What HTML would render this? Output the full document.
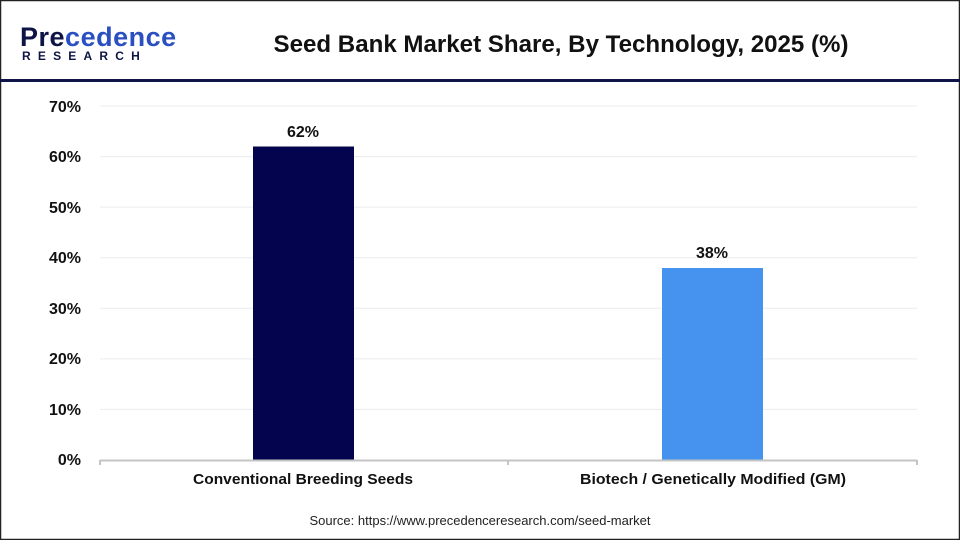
<!DOCTYPE html>
<html><head><meta charset="utf-8"><style>
body{margin:0;width:960px;height:540px;overflow:hidden;background:#fff;font-family:"Liberation Sans",sans-serif}
</style></head><body>
<svg width="960" height="540" xmlns="http://www.w3.org/2000/svg" font-family="Liberation Sans, sans-serif">
<rect x="0.5" y="0.5" width="959" height="539" fill="#fff" stroke="#222" stroke-width="1.5"/>
<rect x="0" y="79" width="960" height="3" fill="#0f1446"/>
<text x="20" y="46" font-size="27" fill="#0f1446" font-weight="bold" letter-spacing="0.5">Pre<tspan fill="#2a4fc0">cedence</tspan></text>
<text x="22" y="60" font-size="12" fill="#0f1446" font-weight="bold" letter-spacing="7.2">RESEARCH</text>
<text x="561" y="52" font-size="24" font-weight="bold" text-anchor="middle" fill="#111" textLength="575" lengthAdjust="spacingAndGlyphs">Seed Bank Market Share, By Technology, 2025 (%)</text>
<g stroke="#ececec" stroke-width="1">
<line x1="100" x2="917" y1="106" y2="106"/><line x1="100" x2="917" y1="156.6" y2="156.6"/>
<line x1="100" x2="917" y1="207.1" y2="207.1"/><line x1="100" x2="917" y1="257.7" y2="257.7"/>
<line x1="100" x2="917" y1="308.3" y2="308.3"/><line x1="100" x2="917" y1="358.9" y2="358.9"/>
<line x1="100" x2="917" y1="409.4" y2="409.4"/>
</g>
<g font-size="16" font-weight="bold" fill="#111" text-anchor="end">
<text x="81" y="112">70%</text><text x="81" y="162">60%</text><text x="81" y="213">50%</text>
<text x="81" y="263">40%</text><text x="81" y="314">30%</text><text x="81" y="364">20%</text>
<text x="81" y="415">10%</text><text x="81" y="465">0%</text>
</g>
<rect x="253" y="146.5" width="101" height="313.5" fill="#03044d"/>
<rect x="662" y="268" width="101" height="192" fill="#4593ee"/>
<line x1="100" x2="917" y1="460.5" y2="460.5" stroke="#c4c4c4" stroke-width="2"/>
<g stroke="#c4c4c4" stroke-width="2"><line x1="100" x2="100" y1="460" y2="465"/><line x1="508" x2="508" y1="460" y2="465"/><line x1="917" x2="917" y1="460" y2="465"/></g>
<g font-size="16" font-weight="bold" fill="#111" text-anchor="middle">
<text x="303" y="137">62%</text><text x="712" y="258">38%</text>
<text x="303" y="484" font-size="15" textLength="220" lengthAdjust="spacingAndGlyphs">Conventional Breeding Seeds</text>
<text x="713" y="484" font-size="15" textLength="266" lengthAdjust="spacingAndGlyphs">Biotech / Genetically Modified (GM)</text>
</g>
<text x="480" y="525" font-size="13" text-anchor="middle" fill="#222">Source: https://www.precedenceresearch.com/seed-market</text>
</svg>
</body></html>
